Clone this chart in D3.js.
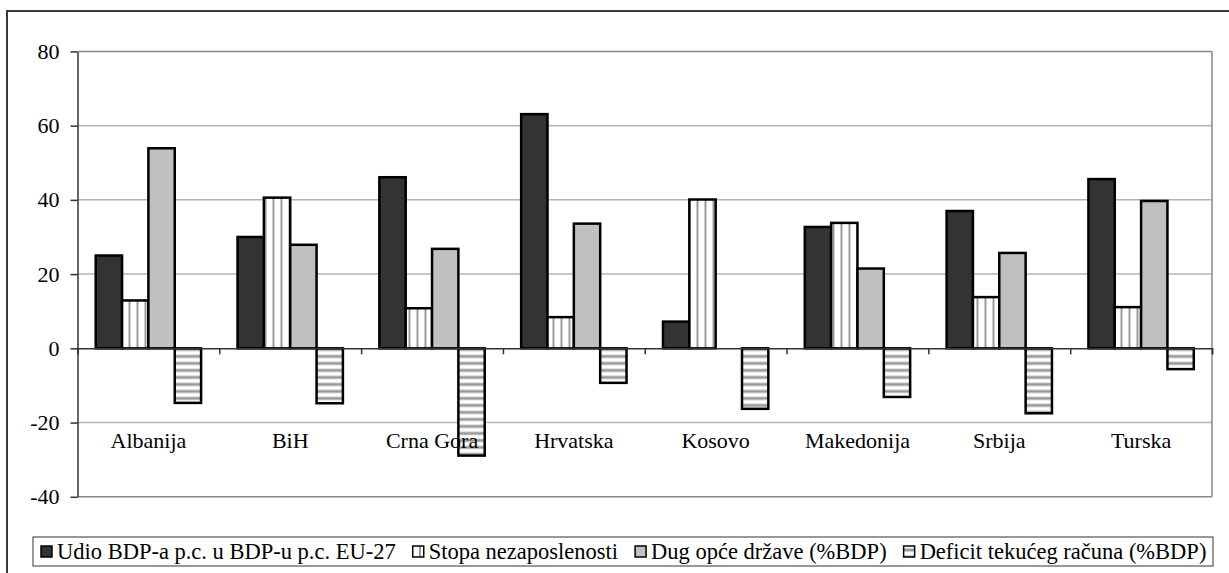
<!DOCTYPE html>
<html>
<title>Zapadni Balkan i Turska</title>
<meta charset="UTF-8">
<script type="text/javascript" src="https://d3js.org/d3.v7.min.js"></script>
<style type="text/css">
  body { margin:0; background:#fff; }
  text { font-family: "Liberation Serif", "Times New Roman", serif; fill:#000; }
</style>
<body>
<svg id="viz" width="1229" height="573"></svg>
<script>
// data
var countries = ["Albanija", "BiH", "Crna Gora", "Hrvatska", "Kosovo", "Makedonija", "Srbija", "Turska"];
var seriesNames = ["Udio BDP-a p.c. u BDP-u p.c. EU-27", "Stopa nezaposlenosti", "Dug opće države (%BDP)", "Deficit tekućeg računa (%BDP)"];
var udioBdp   = [25, 30, 46.1, 63.1, 7.2, 32.7, 37, 45.6];
var nezaposl  = [12.9, 40.6, 10.8, 8.4, 40.1, 33.8, 13.8, 11.1];
var dug       = [53.9, 27.9, 26.8, 33.6, null, 21.5, 25.7, 39.7];
var deficit   = [-14.7, -14.8, -28.9, -9.3, -16.3, -13.1, -17.5, -5.6];
var yTicks    = [-40, -20, 0, 20, 40, 60, 80];

var allSeries = [udioBdp, nezaposl, dug, deficit];

var svg = d3.select("#viz");

// patterns for the striped series
var defs = svg.append("defs");
var pv = defs.append("pattern").attr("id", "vstripe")
  .attr("patternUnits", "userSpaceOnUse").attr("width", 8).attr("height", 8);
pv.append("rect").attr("width", 8).attr("height", 8).attr("fill", "#fff");
pv.append("rect").attr("x", 3).attr("width", 2).attr("height", 8).attr("fill", "#9a9a9a");
var ph = defs.append("pattern").attr("id", "hstripe")
  .attr("patternUnits", "userSpaceOnUse").attr("width", 8).attr("height", 7);
ph.append("rect").attr("width", 8).attr("height", 7).attr("fill", "#fff");
ph.append("rect").attr("y", 2).attr("width", 8).attr("height", 1).attr("fill", "#cfcfcf");
ph.append("rect").attr("y", 3).attr("width", 8).attr("height", 2).attr("fill", "#9a9a9a");
ph.append("rect").attr("y", 5).attr("width", 8).attr("height", 1).attr("fill", "#cfcfcf");

var fills = ["#333333", "url(#vstripe)", "#c0c0c0", "url(#hstripe)"];

// outer frame
svg.append("rect")
  .attr("x", 7).attr("y", 11).attr("width", 1260).attr("height", 620)
  .attr("fill", "none").attr("stroke", "#3a3a3a").attr("stroke-width", 2);

var margin = {top: 51.4, left: 77.5},
    width = 1212 - 77.5,
    height = 496.8 - 51.4,
    g = svg.append("g").attr("transform", "translate(" + margin.left + "," + margin.top + ")");

var x0 = d3.scaleBand().domain(countries).range([0, width])
  .paddingInner(0.257).paddingOuter(0.1285);
var x1 = d3.scaleBand().domain(d3.range(allSeries.length)).range([0, x0.bandwidth()]);
var y = d3.scaleLinear().domain([-40, 80]).range([height, 0]);

// gridlines
g.append("g").selectAll("line")
  .data(yTicks.filter(function(d) { return d != 0; }))
  .enter().append("line")
  .attr("x1", 0).attr("x2", width)
  .attr("y1", function(d) { return y(d); }).attr("y2", function(d) { return y(d); })
  .attr("stroke", function(d) { return (d == 80 || d == -40) ? "#888" : "#b4b4b4"; })
  .attr("stroke-width", 1.5);

// right border of plot area
g.append("line").attr("x1", width).attr("x2", width).attr("y1", 0).attr("y2", height)
  .attr("stroke", "#888").attr("stroke-width", 1.5);

// bars
var bars = [];
countries.forEach(function(c, i) {
  allSeries.forEach(function(s, k) {
    if (s[i] != null) bars.push({c: c, k: k, v: s[i]});
  });
});

g.append("g").selectAll("rect")
  .data(bars)
  .enter().append("rect")
  .attr("x", function(d) { return x0(d.c) + x1(d.k); })
  .attr("y", function(d) { return y(Math.max(0, d.v)); })
  .attr("width", x1.bandwidth())
  .attr("height", function(d) { return Math.abs(y(d.v) - y(0)); })
  .attr("fill", function(d) { return fills[d.k]; })
  .attr("stroke", "#000").attr("stroke-width", 2.5);

// zero axis with ticks between categories
var xAxis = d3.axisBottom(d3.scaleLinear().domain([0, countries.length]).range([0, width]))
  .tickValues(d3.range(countries.length + 1)).tickSize(6).tickFormat("");
g.append("g")
  .attr("transform", "translate(0," + y(0) + ")")
  .call(xAxis)
  .call(function(a) { a.selectAll("path, line").attr("stroke", "#333").attr("stroke-width", 1.5); });

// category labels
g.append("g").selectAll("text")
  .data(countries)
  .enter().append("text")
  .attr("x", function(d) { return x0(d) + x0.bandwidth() / 2; })
  .attr("y", 448 - margin.top)
  .attr("text-anchor", "middle")
  .style("font-size", "22px")
  .text(function(d) { return d; });

// y axis (plain hyphen for negatives, like the original)
g.append("g")
  .call(d3.axisLeft(y).tickValues(yTicks).tickSize(7).tickPadding(11).tickSizeOuter(0)
    .tickFormat(function(d) { return String(d); }))
  .call(function(a) {
    a.selectAll("path, line").attr("stroke", "#333").attr("stroke-width", 1.5);
    a.selectAll("text").style("font-size", "22px")
      .style("font-family", "'Liberation Serif', serif").attr("fill", "#000");
  });

// legend
var legend = svg.append("g");
legend.append("rect")
  .attr("x", 33).attr("y", 537).attr("width", 1180).attr("height", 29)
  .attr("fill", "#fff").attr("stroke", "#333").attr("stroke-width", 1);

var lx = 41;
seriesNames.forEach(function(name, k) {
  legend.append("rect")
    .attr("x", lx).attr("y", 546).attr("width", 11).attr("height", 11)
    .attr("fill", fills[k]).attr("stroke", "#000").attr("stroke-width", 1.5);
  var t = legend.append("text")
    .attr("x", lx + 16).attr("y", 559)
    .style("font-size", "22.5px")
    .text(name);
  lx += 16 + t.node().getComputedTextLength() + 17;
});
</script>
</body>
</html>
